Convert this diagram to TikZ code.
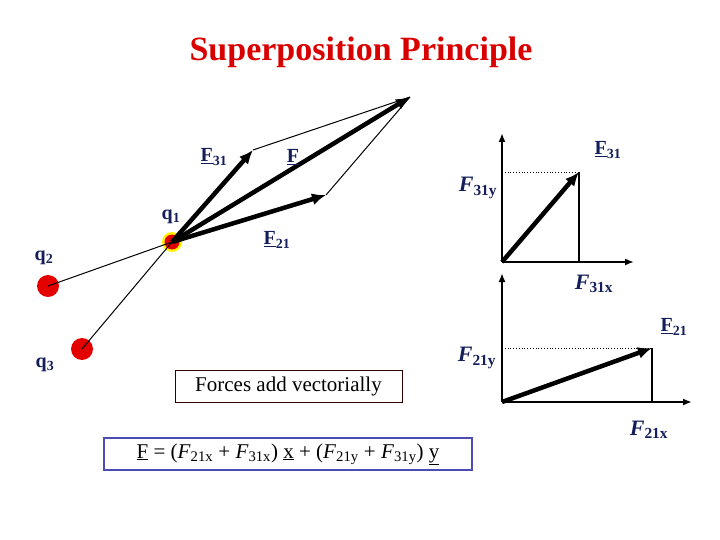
\documentclass[tikz,border=0pt]{standalone}
\usepackage{fontspec}
\usetikzlibrary{arrows.meta}
\setmainfont{Liberation Serif}
\begin{document}
\begin{tikzpicture}[x=1pt,y=-1pt,
  lbl/.style={text=navy,font=\bfseries\fontsize{20}{22}\selectfont,inner sep=0pt},
  ilbl/.style={text=navy,font=\bfseries\fontsize{22}{22}\selectfont,inner sep=0pt},
  big/.style={line width=4.5pt,-{Latex[length=14pt,width=12pt]}},
  thin/.style={line width=1pt},
  axis/.style={line width=1.8pt,-{Latex[length=9pt,width=7pt]}},
  charge/.style={circle,fill=red!90!black,inner sep=0pt,minimum size=22pt}]
\definecolor{navy}{RGB}{20,30,90}
\useasboundingbox (0,0) rectangle (720,540);
\node[text=red!85!black,font=\bfseries\fontsize{34}{36}\selectfont] (title) at (361,52) {Superposition Principle};
% charges
\node[charge] (q2) at (48,286) {};
\node[charge] (q3) at (82,349) {};
\node[circle,fill=yellow,inner sep=0pt,minimum size=20pt] (q1h) at (172,242) {};
\node[circle,fill=red!90!black,inner sep=0pt,minimum size=15pt] (q1) at (172,242) {};
\draw[thin] (q2.center) -- (q1.center);
\draw[thin] (q3.center) -- (q1.center);
\coordinate (a31) at (253,150);
\coordinate (a21) at (326,195);
\coordinate (aF) at (410,97);
\draw[thin] (a31) -- (aF);
\draw[thin] (a21) -- (aF);
\draw[big] (q1.center) -- (a31);
\draw[big] (q1.center) -- (a21);
\draw[big] (q1.center) -- (aF);
\node[lbl] (l31) at (214,157) {\underline{F}\textsubscript{31}};
\node[lbl] (lF) at (293,157) {\underline{F}};
\node[lbl] (l21) at (277,240) {\underline{F}\textsubscript{21}};
\node[lbl] (lq1) at (171,217) {q\textsubscript{1}};
\node[lbl] (lq2) at (44,258) {q\textsubscript{2}};
\node[lbl] (lq3) at (45,365) {q\textsubscript{3}};
% right top
\coordinate (o1) at (502,262);
\coordinate (y1) at (502,133);
\coordinate (x1) at (634,262);
\coordinate (t1) at (579,172);
\draw[axis] (o1) -- (y1);
\draw[axis] (o1) -- (x1);
\draw[dotted,thick] (o1 |- t1) -- (t1);
\draw[line width=1.2pt] (t1) -- (o1 -| t1);
\draw[big] (o1) -- (t1);
\node[lbl] (r31) at (608,150) {\underline{F}\textsubscript{31}};
\node[ilbl] (r31y) at (478,188) {\textit{F}\textsubscript{31y}};
\node[ilbl] (r31x) at (594,284) {\textit{F}\textsubscript{31x}};
% right bottom
\coordinate (o2) at (502,402);
\coordinate (y2) at (502,273);
\coordinate (x2) at (692,402);
\coordinate (t2) at (652,348);
\draw[axis] (o2) -- (y2);
\draw[axis] (o2) -- (x2);
\draw[dotted,thick] (o2 |- t2) -- (t2);
\draw[line width=1.2pt] (t2) -- (o2 -| t2);
\draw[big] (o2) -- (t2);
\node[lbl] (r21) at (674,327) {\underline{F}\textsubscript{21}};
\node[ilbl] (r21y) at (477,358) {\textit{F}\textsubscript{21y}};
\node[ilbl] (r21x) at (649,430) {\textit{F}\textsubscript{21x}};
% boxes
\node[draw=black!80!red,line width=1pt,minimum width=227pt,minimum height=32pt,font=\fontsize{21}{22}\selectfont,text=black] (b1) at (288.5,386) {Forces add vectorially};
\node[draw=blue!40!gray,line width=1.2pt,minimum width=368pt,minimum height=32pt,font=\fontsize{21}{22}\selectfont,text=black] (b2) at (288,454)
 {\underline{F} = (\textit{F}\textsubscript{21x} + \textit{F}\textsubscript{31x}) \underline{x} + (\textit{F}\textsubscript{21y} + \textit{F}\textsubscript{31y}) \underline{y}};
\end{tikzpicture}
\end{document}
